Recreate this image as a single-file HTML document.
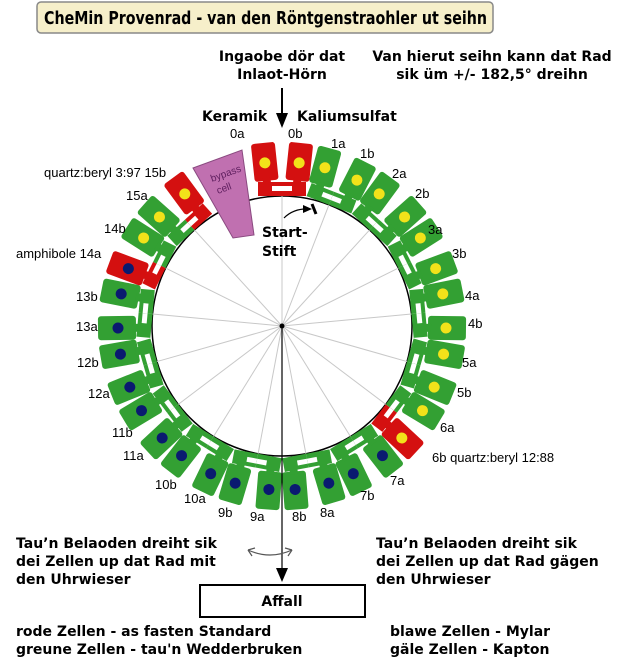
<!DOCTYPE html>
<html><head><meta charset="utf-8"><style>
body{margin:0;background:#fff;}
svg{display:block;font-family:"Liberation Sans",sans-serif;}
.b{font-weight:bold;font-family:"DejaVu Sans","Liberation Sans",sans-serif;font-size:14px;}
.l{font-size:13px;}
</style></head><body>
<svg id="s" width="620" height="662" viewBox="0 0 620 662">
<rect x="37" y="2" width="456" height="31" rx="4" fill="#f6efca" stroke="#888" stroke-width="1.5"/>
<text x="44" y="24" textLength="443" lengthAdjust="spacingAndGlyphs" style="font-weight:bold;font-size:18px;font-family:'DejaVu Sans',sans-serif">CheMin Provenrad -  van den Röntgenstraohler ut seihn</text>
<text class="b" x="282" y="61" text-anchor="middle">Ingaobe dör dat</text>
<text class="b" x="282" y="79" text-anchor="middle">Inlaot-Hörn</text>
<text class="b" x="492" y="61" text-anchor="middle">Van hierut seihn kann dat Rad</text>
<text class="b" x="492" y="79" text-anchor="middle">sik üm +/- 182,5° dreihn</text>
<text class="b" x="202" y="121">Keramik</text>
<text class="b" x="297" y="121">Kaliumsulfat</text>
<line x1="282" y1="88" x2="282" y2="118" stroke="#000" stroke-width="2"/>
<polygon points="276,113 288,113 282,128" fill="#000"/>
<circle cx="282" cy="326" r="130" fill="#fff" stroke="#000" stroke-width="1.5"/>
<g id="spokes" stroke="#c8c8c8" stroke-width="1"></g>
<g id="cells"></g>
<circle cx="282" cy="326" r="2.5" fill="#000"/>
<polygon points="193,168 242,150 254,235 233,238" fill="#c070b0" stroke="#8a4a80" stroke-width="1"/>
<text x="212" y="182" font-size="10" fill="#602060" transform="rotate(-20 212 182)">bypass</text>
<text x="218" y="194" font-size="10" fill="#602060" transform="rotate(-20 218 194)">cell</text>
<line x1="312" y1="204" x2="316" y2="214" stroke="#000" stroke-width="3"/>
<path d="M284,218 Q294,208 310,209" fill="none" stroke="#000" stroke-width="1.2"/>
<polygon points="303,205 312,209 303,213" fill="#000"/>
<text class="b" x="262" y="237">Start-</text>
<text class="b" x="262" y="256">Stift</text>
<g class="l">
<text x="230" y="138">0a</text><text x="288" y="138">0b</text>
<text x="331" y="148">1a</text><text x="360" y="158">1b</text>
<text x="392" y="178">2a</text><text x="415" y="198">2b</text>
<text x="428" y="234">3a</text><text x="452" y="258">3b</text>
<text x="465" y="300">4a</text><text x="468" y="328">4b</text>
<text x="462" y="367">5a</text><text x="457" y="397">5b</text>
<text x="440" y="432">6a</text><text x="432" y="462">6b quartz:beryl 12:88</text>
<text x="390" y="485">7a</text><text x="360" y="500">7b</text>
<text x="320" y="517">8a</text><text x="292" y="521">8b</text>
<text x="250" y="521">9a</text><text x="218" y="517">9b</text>
<text x="184" y="503">10a</text><text x="155" y="489">10b</text>
<text x="123" y="460">11a</text><text x="112" y="437">11b</text>
<text x="88" y="398">12a</text><text x="77" y="367">12b</text>
<text x="76" y="331">13a</text><text x="76" y="301">13b</text>
<text x="16" y="258">amphibole 14a</text><text x="104" y="233">14b</text>
<text x="126" y="200">15a</text><text x="44" y="177">quartz:beryl 3:97 15b</text>
</g>
<line x1="282" y1="326" x2="282" y2="575" stroke="#000" stroke-width="1.2"/>
<polygon points="276,568 288,568 282,582" fill="#000"/>
<path d="M248,550 Q270,560 292,550" fill="none" stroke="#555" stroke-width="1.2"/>
<path d="M248,550 l7,-2 m-7,2 l4,6 M292,550 l-7,-2 m7,2 l-4,6" fill="none" stroke="#555" stroke-width="1.2"/>
<rect x="200" y="585" width="165" height="32" fill="#fff" stroke="#000" stroke-width="2"/>
<text class="b" x="282" y="606" text-anchor="middle">Affall</text>
<text class="b" x="16" y="548">Tau’n Belaoden dreiht sik</text>
<text class="b" x="16" y="566">dei Zellen up dat Rad mit</text>
<text class="b" x="16" y="584">den Uhrwieser</text>
<text class="b" x="376" y="548">Tau’n Belaoden dreiht sik</text>
<text class="b" x="376" y="566">dei Zellen up dat Rad gägen</text>
<text class="b" x="376" y="584">den Uhrwieser</text>
<text class="b" x="16" y="636">rode Zellen - as fasten Standard</text>
<text class="b" x="16" y="654">greune Zellen - tau'n Wedderbruken</text>
<text class="b" x="390" y="636">blawe Zellen - Mylar</text>
<text class="b" x="390" y="654">gäle Zellen - Kapton</text>
</svg>
<script>
var NS="http://www.w3.org/2000/svg",cx=282,cy=326,step=360/17;
var G="#33a033",R="#d41010",Y="#f2e21a",B="#0a1a70";
var P=[[R,Y,R,Y],[G,Y,G,Y],[G,Y,G,Y],[G,Y,G,Y],[G,Y,G,Y],[G,Y,G,Y],[G,Y,R,Y],[G,B,G,B],[G,B,G,B],[G,B,G,B],[G,B,G,B],[G,B,G,B],[G,B,G,B],[G,B,G,B],[R,B,G,Y],[G,Y,R,Y]];
function el(t,a,p){var e=document.createElementNS(NS,t);for(var k in a)e.setAttribute(k,a[k]);p.appendChild(e);return e;}
var cg=document.getElementById("cells"),sg=document.getElementById("spokes");
for(var k=0;k<16;k++){
 var ang=k*step;
 el("line",{x1:cx,y1:cy,x2:cx+130*Math.sin(ang*Math.PI/180),y2:cy-130*Math.cos(ang*Math.PI/180)},sg);
 for(var j=0;j<2;j++){
  var a=ang+(j?6:-6),col=P[k][j*2],dot=P[k][j*2+1];
  var g=el("g",{transform:"rotate("+a+" "+cx+" "+cy+")"},cg);
  el("rect",{x:cx-12,y:cy-184,width:24,height:38,rx:3,fill:col},g);
  el("rect",{x:cx-4,y:cy-149,width:8,height:12,fill:col},g);
  el("circle",{cx:cx,cy:cy-164,r:5.5,fill:dot},g);
  var g2=el("g",{transform:"rotate("+ang+" "+cx+" "+cy+")"},cg);
  el("rect",{x:j?cx:cx-24,y:cy-144,width:24,height:14,fill:col},g2);
  el("rect",{x:j?cx:cx-10,y:cy-140,width:10,height:5,fill:"#fff"},g2);
 }
}
</script>
</body></html>
